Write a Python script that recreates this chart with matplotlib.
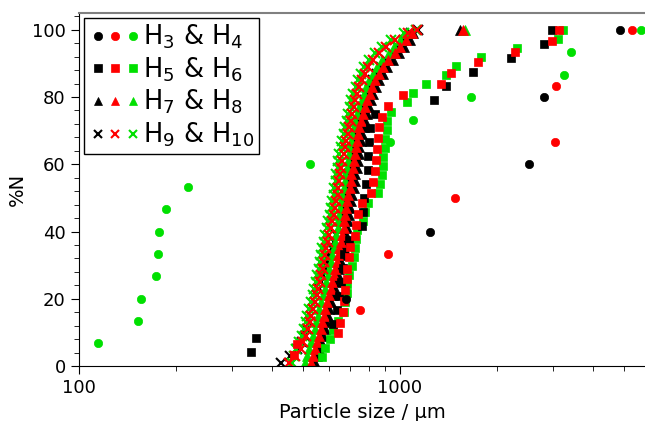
import matplotlib
matplotlib.use('Agg')
import matplotlib.pyplot as plt
from matplotlib.ticker import FixedLocator, NullFormatter, MultipleLocator, LogLocator
from matplotlib.legend_handler import HandlerTuple

BLACK = 'black'
RED = '#ff0000'
GREEN = '#00e000'

# H3 & H4 (circles)
circ_black_x = [679, 1240, 2524, 2812, 4843]
circ_black_y = [20, 40, 60, 80, 100]
circ_red_x = [751, 917, 1484, 3041, 3063, 5287]
circ_red_y = [16.7, 33.3, 50, 66.7, 83.3, 100]
circ_green_x = [115, 153, 156, 174, 176, 177, 187, 219, 524, 931, 1097, 1665, 3246, 3414, 5640]
circ_green_y = [6.7, 13.3, 20, 26.7, 33.3, 40, 46.7, 53.3, 60, 66.7, 73.3, 80, 86.7, 93.3, 100]

# H5 & H6 (squares)
sq_black_x = [343, 356, 619, 637, 646, 655, 665, 669, 694, 762, 767, 773, 784, 795, 797,
              800, 806, 836, 1276, 1390, 1687, 2218, 2812, 2974]
sq_black_y = [4.2, 8.3, 12.5, 16.7, 20.8, 25.0, 29.2, 33.3, 37.5, 41.7, 45.8, 50.0, 54.2,
              58.3, 62.5, 66.7, 70.8, 75.0, 79.2, 83.3, 87.5, 91.7, 95.8, 100]
sq_red_x = [467, 478, 641, 650, 665, 669, 674, 684, 686, 694, 699, 724, 730, 740, 762, 812,
            824, 836, 842, 848, 854, 860, 879, 917, 1022, 1343, 1442, 1750, 2281, 2974, 3126]
sq_red_y = [3.2, 6.5, 9.7, 12.9, 16.1, 19.4, 22.6, 25.8, 29.0, 32.3, 35.5, 38.7, 41.9, 45.2,
            48.4, 51.6, 54.8, 58.1, 61.3, 64.5, 67.7, 71.0, 74.2, 77.4, 80.6, 83.9, 87.1,
            90.3, 93.5, 96.8, 100]
sq_green_x = [572, 584, 605, 619, 641, 669, 674, 684, 686, 694, 709, 719, 724, 730, 735, 767,
              778, 795, 854, 866, 879, 885, 888, 898, 900, 910, 912, 938, 1052, 1100, 1205,
              1390, 1493, 1786, 2312, 3100, 3222]
sq_green_y = [2.7, 5.4, 8.1, 10.8, 13.5, 16.2, 18.9, 21.6, 24.3, 27.0, 29.7, 32.4, 35.1,
              37.8, 40.5, 43.2, 45.9, 48.6, 51.4, 54.1, 56.8, 59.5, 62.2, 64.9, 67.6, 70.3,
              73.0, 75.7, 78.4, 81.1, 83.8, 86.5, 89.2, 91.9, 94.6, 97.3, 100]

# cumulative levels shared by the dense runs (H7 - H10)
dense_y = [1, 3, 5, 7, 9, 11, 13, 15, 17, 19, 21, 23, 25, 27, 29, 31, 33, 35, 37, 39, 41,
           43, 45, 47, 49, 51, 53, 55, 57, 59, 61, 63, 65, 67, 69, 71, 73, 75, 77, 79, 81,
           83, 85, 87, 89, 91, 93, 95, 97, 99, 100]

# H7 & H8 (triangles)
tri_black_x = [543, 552, 560, 568, 576, 582, 589, 597, 603, 610, 618, 626, 632, 639, 645,
               653, 660, 667, 674, 680, 686, 690, 696, 701, 706, 711, 717, 722, 726, 733,
               738, 743, 748, 755, 761, 770, 778, 789, 801, 815, 827, 842, 862, 885, 911,
               948, 990, 1029, 1074, 1100, 1538]
tri_red_x = [528, 536, 544, 552, 560, 566, 572, 580, 586, 593, 601, 608, 614, 621, 627,
             635, 641, 648, 655, 661, 667, 671, 676, 681, 686, 691, 697, 702, 706, 712,
             717, 722, 727, 734, 740, 748, 756, 767, 778, 792, 804, 818, 838, 860, 885,
             921, 962, 1000, 1044, 1090, 1571]
tri_green_x = [506, 513, 521, 529, 536, 542, 548, 556, 561, 568, 576, 582, 588, 595, 601,
               608, 614, 621, 627, 633, 639, 643, 648, 652, 657, 662, 668, 673, 676, 682,
               687, 692, 696, 703, 709, 717, 724, 735, 745, 759, 770, 784, 803, 824, 848,
               882, 922, 958, 1000, 1044, 1590]

# H9 & H10 (crosses)
x_black_x = [426, 455, 478, 494, 506, 515, 523, 530, 537, 545, 553, 561, 569, 577, 585,
             594, 603, 612, 623, 634, 645, 652, 659, 665, 671, 677, 683, 689, 695, 701,
             707, 713, 719, 725, 732, 740, 748, 757, 767, 779, 791, 805, 825, 848, 873,
             905, 945, 985, 1030, 1080, 1138]
x_red_x = [450, 472, 490, 500, 510, 517, 524, 530, 536, 544, 550, 556, 562, 568, 574,
           579, 584, 590, 597, 602, 608, 614, 621, 627, 634, 639, 643, 648, 652, 657,
           662, 667, 672, 679, 687, 695, 704, 710, 717, 726, 735, 748, 762, 776, 795,
           824, 860, 904, 965, 1059, 1130]
x_green_x = [462, 466, 476, 486, 496, 503, 509, 515, 521, 529, 535, 540, 546, 552, 558,
             563, 568, 573, 580, 585, 591, 597, 604, 609, 616, 621, 625, 630, 634, 639,
             643, 648, 653, 660, 668, 676, 684, 690, 697, 706, 714, 727, 741, 754, 773,
             801, 836, 879, 938, 1029, 1120]

labels = ['H$_3$ & H$_4$', 'H$_5$ & H$_6$', 'H$_7$ & H$_8$', 'H$_9$ & H$_{10}$']

fig = plt.figure(figsize=(6.45, 4.21), dpi=100)
ax = fig.add_axes([79 / 645, 55 / 421, 566 / 645, 353 / 421])


def pts(x, y, marker, color, ms=6, mew=0.5):
    h, = ax.plot(x, y, linestyle='none', marker=marker, color=color, ms=ms,
                 mec=color, mew=mew)
    return h


# dense runs: black underneath, red on top
tri_k = pts(tri_black_x, dense_y, '^', BLACK, ms=7)
crs_k = pts(x_black_x, dense_y, 'x', BLACK, ms=6.5, mew=1.5)
tri_g = pts(tri_green_x, dense_y, '^', GREEN, ms=7)
crs_g = pts(x_green_x, dense_y, 'x', GREEN, ms=6.5, mew=1.5)
tri_r = pts(tri_red_x, dense_y, '^', RED, ms=7)
crs_r = pts(x_red_x, dense_y, 'x', RED, ms=6.5, mew=1.5)

sq_g = pts(sq_green_x, sq_green_y, 's', GREEN)
sq_k = pts(sq_black_x, sq_black_y, 's', BLACK)
sq_r = pts(sq_red_x, sq_red_y, 's', RED)
ci_g = pts(circ_green_x, circ_green_y, 'o', GREEN)
ci_k = pts(circ_black_x, circ_black_y, 'o', BLACK)
ci_r = pts(circ_red_x, circ_red_y, 'o', RED)


# legend handles (black / red / green side by side)
def lh(marker, color, ms, mew=0.5):
    h, = ax.plot([], [], linestyle='none', marker=marker, color=color, ms=ms,
                 mec=color, mew=mew)
    return h


groups = [tuple(lh('o', c, 6) for c in (BLACK, RED, GREEN)),
          tuple(lh('s', c, 6) for c in (BLACK, RED, GREEN)),
          tuple(lh('^', c, 6) for c in (BLACK, RED, GREEN)),
          tuple(lh('x', c, 5.5, 1.5) for c in (BLACK, RED, GREEN))]
leg = ax.legend(groups, labels, handler_map={tuple: HandlerTuple(ndivide=None, pad=0.0)},
                loc='upper left', fontsize=18.5, handlelength=2.05, handletextpad=0.06,
                labelspacing=0.16, borderpad=0.18, borderaxespad=0.2, fancybox=False,
                framealpha=1, edgecolor='black')
leg.get_frame().set_linewidth(1.0)

ax.set_xscale('log')
ax.set_xlim(100, 5800)
ax.set_ylim(0, 105)
ax.xaxis.set_major_locator(FixedLocator([100, 1000]))
ax.xaxis.set_major_formatter(plt.FixedFormatter(['100', '1000']))
ax.xaxis.set_minor_locator(LogLocator(base=10, subs=range(2, 10)))
ax.xaxis.set_minor_formatter(NullFormatter())
ax.yaxis.set_major_locator(MultipleLocator(20))
ax.yaxis.set_minor_locator(MultipleLocator(4))
ax.tick_params(which='major', direction='out', length=6, labelsize=13)
ax.tick_params(which='minor', direction='out', length=3.5)
ax.spines['right'].set_visible(False)
ax.spines['top'].set_color('0.5')
ax.spines['top'].set_linewidth(1.5)

ax.set_xlabel('Particle size / µm', fontsize=14)
ax.set_ylabel('%N', fontsize=14)

fig.savefig('out.png', dpi=100)
